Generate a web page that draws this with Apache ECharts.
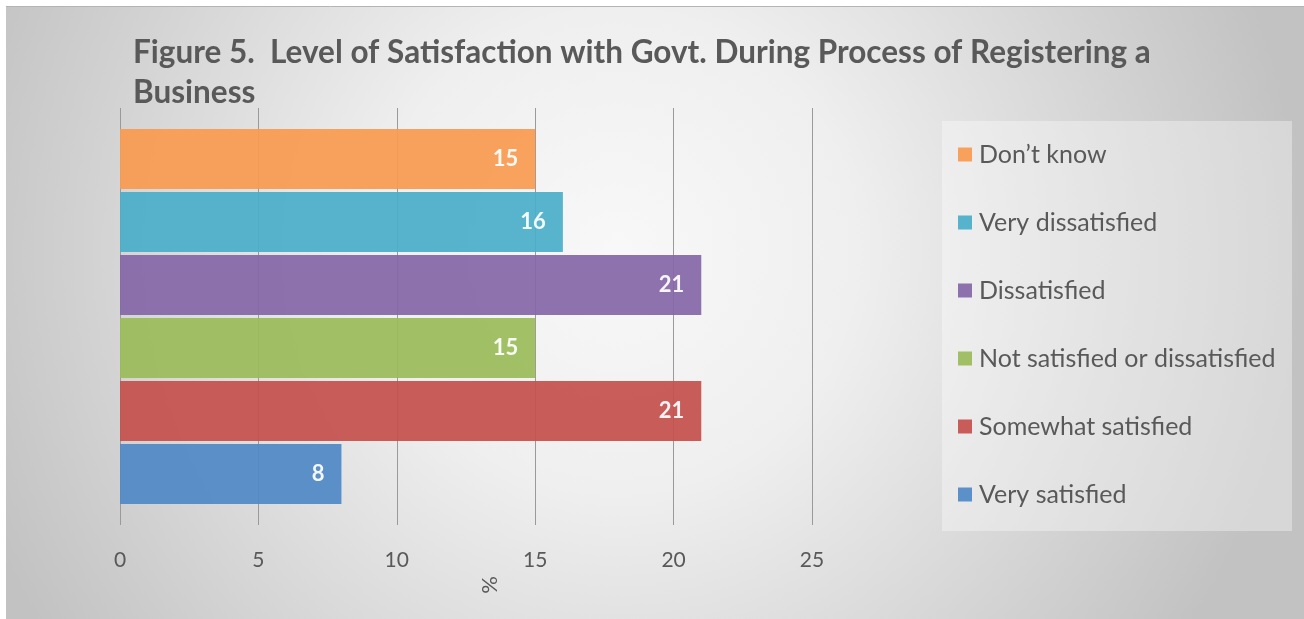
<!DOCTYPE html>
<html>
<head>
<meta charset="utf-8">
<script src="https://cdn.jsdelivr.net/npm/echarts@6/dist/echarts.min.js"></script>
<style>
  html, body { margin: 0; padding: 0; background: #ffffff; }
  #chart { width: 1304px; height: 619px; }
</style>
</head>
<body>
<div id="chart"></div>
<script>
// Response categories, top to bottom as listed in the legend
const categories = [
  "Don\u2019t know",
  "Very dissatisfied",
  "Dissatisfied",
  "Not satisfied or dissatisfied",
  "Somewhat satisfied",
  "Very satisfied"
];
// Share of respondents (%)
const values = [15, 16, 21, 15, 21, 8];
const colors = ["#F79B52", "#4BADC8", "#8467A8", "#9BBB59", "#C4514E", "#5089C6"];
const xTicks = { min: 0, max: 25, interval: 5 };
const titleText = "Figure 5.  Level of Satisfaction with Govt. During Process of Registering a\nBusiness";

const FONT = "Lato";
const TEXT_GREY = "#595959";

const series = categories.map((name, i) => ({
  name: name,
  type: "bar",
  data: [values[i]],
  barWidth: 60,
  barGap: "5%",
  itemStyle: { color: colors[i], opacity: 0.93 },
  label: {
    show: true,
    position: "insideRight",
    distance: 17,
    formatter: "{c}",
    color: "#ffffff",
    fontFamily: FONT,
    fontWeight: "bold",
    fontSize: 22
  }
}));

const chart = echarts.init(document.getElementById("chart"), null, { renderer: "canvas" });
chart.setOption({
  animation: false,
  graphic: [
    {
      type: "rect",
      z: -100,
      shape: { x: 6, y: 6, width: 1298, height: 613 },
      style: {
        fill: {
          type: "radial", x: 0.47, y: 0.4, r: 1.12,
          colorStops: [
            { offset: 0, color: "#f8f8f8" },
            { offset: 0.35, color: "#efefef" },
            { offset: 1, color: "#c2c2c2" }
          ]
        }
      }
    },
    {
      type: "line",
      z: -99,
      shape: { x1: 6, y1: 6.5, x2: 1304, y2: 6.5 },
      style: { stroke: "#b4b4b4", lineWidth: 1 }
    },
    {
      type: "rect",
      z: -98,
      shape: { x: 942, y: 121, width: 350, height: 410 },
      style: { fill: "rgba(255,255,255,0.35)" }
    },
    {
      type: "text",
      x: 490,
      y: 585,
      rotation: Math.PI / 2,
      style: {
        text: "%",
        fill: TEXT_GREY,
        font: "22px " + FONT,
        align: "center",
        verticalAlign: "middle"
      }
    }
  ],
  title: {
    text: titleText,
    left: 128,
    top: 28,
    textStyle: {
      fontFamily: FONT,
      fontWeight: "bold",
      fontSize: 31.5,
      lineHeight: 40,
      color: TEXT_GREY
    }
  },
  legend: {
    data: categories,
    orient: "vertical",
    left: 953,
    top: 137,
    itemWidth: 14,
    itemHeight: 14,
    itemGap: 43,
    icon: "rect",
    textStyle: {
      fontFamily: FONT,
      fontSize: 25,
      lineHeight: 25,
      color: TEXT_GREY,
      padding: [0, 0, 0, 2]
    }
  },
  grid: { left: 120, right: 492, top: 108, bottom: 94, containLabel: false },
  xAxis: {
    type: "value",
    min: xTicks.min,
    max: xTicks.max,
    interval: xTicks.interval,
    axisLine: { show: false },
    axisTick: { show: false },
    splitLine: { show: true, lineStyle: { color: "#9a9a9a", width: 1 } },
    axisLabel: {
      margin: 25,
      fontFamily: FONT,
      fontSize: 21,
      color: TEXT_GREY
    }
  },
  yAxis: {
    type: "category",
    data: [""],
    axisLine: { show: false },
    axisTick: { show: false },
    axisLabel: { show: false }
  },
  series: series
});
</script>
</body>
</html>
